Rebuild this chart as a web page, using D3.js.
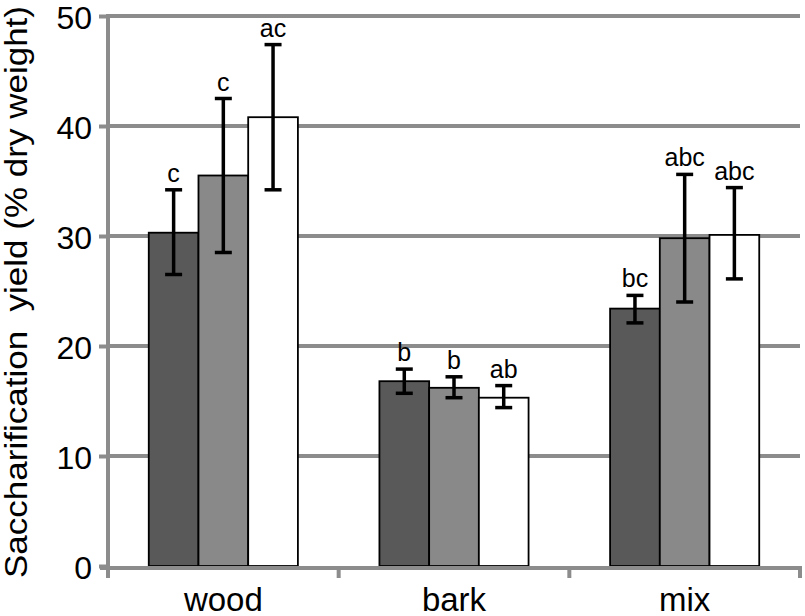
<!DOCTYPE html>
<html>
<head>
<meta charset="utf-8">
<script src="https://cdn.jsdelivr.net/npm/d3@7"></script>
<style>
  body { margin: 0; background: #fff; }
  text { font-family: "Liberation Sans", Arial, sans-serif; fill: #000; }
</style>
</head>
<body>
<svg id="chart" width="805" height="616"></svg>
<script>
// data
const categories = ["wood", "bark", "mix"];
const seriesNames = ["s1", "s2", "s3"];
const means = [
  [30.3, 35.5, 40.8],
  [16.8, 16.2, 15.3],
  [23.4, 29.8, 30.1]
];
const errLow = [
  [26.5, 28.5, 34.2],
  [15.7, 15.3, 14.4],
  [22.1, 24.0, 26.1]
];
const errHigh = [
  [34.2, 42.5, 47.4],
  [17.9, 17.2, 16.4],
  [24.6, 35.6, 34.4]
];
const letters = [
  ["c", "c", "ac"],
  ["b", "b", "ab"],
  ["bc", "abc", "abc"]
];
const yTicks = [0, 10, 20, 30, 40, 50];

const colors = ["#595959", "#898989", "#ffffff"];
const axisGray = "#8c8c8c";

const svg = d3.select("#chart");
const mLeft = 108, mRight = 800, mTop = 16, mBottom = 566;

// scales
const x = d3.scaleBand().domain(categories).range([mLeft, mRight]).paddingInner(0).paddingOuter(0);
const xs = d3.scaleBand().domain(seriesNames).range([0, x.bandwidth()]).paddingOuter(0.82).paddingInner(0);
const y = d3.scaleLinear().domain([0, 50]).range([mBottom, mTop]);

// gridlines
svg.append("g")
  .selectAll("line")
  .data(yTicks.filter(d => d > 0))
  .join("line")
  .attr("x1", mLeft).attr("x2", mRight)
  .attr("y1", d => y(d)).attr("y2", d => y(d))
  .attr("stroke", axisGray).attr("stroke-width", 4);

// y axis
const yAxis = svg.append("g")
  .attr("transform", `translate(${mLeft},0)`)
  .call(d3.axisLeft(y).tickValues(yTicks).tickSize(9).tickPadding(7));
yAxis.select(".domain").attr("stroke", axisGray).attr("stroke-width", 4)
  .attr("d", `M0,${y(50) - 2}V${mBottom + 2}`);
yAxis.selectAll(".tick line").attr("stroke", axisGray).attr("stroke-width", 4);
yAxis.selectAll(".tick text").attr("font-size", 32).attr("dy", "0.38em")
  .style("font-family", "Liberation Sans, Arial, sans-serif");

// bars
const groups = svg.append("g").selectAll("g")
  .data(categories)
  .join("g")
  .attr("transform", d => `translate(${x(d)},0)`);

groups.selectAll("rect")
  .data((d, i) => means[i].map((v, j) => ({v, j})))
  .join("rect")
  .attr("x", d => xs(seriesNames[d.j]))
  .attr("width", xs.bandwidth())
  .attr("y", d => y(d.v))
  .attr("height", d => y(0) - y(d.v))
  .attr("fill", d => colors[d.j])
  .attr("stroke", "#000").attr("stroke-width", 1.8);

// error bars
const eb = groups.selectAll("g.err")
  .data((d, i) => means[i].map((v, j) => ({i, j})))
  .join("g").attr("class", "err");
const cx = d => xs(seriesNames[d.j]) + xs.bandwidth() / 2;
const capHalf = 8.5;
eb.append("line")
  .attr("x1", cx).attr("x2", cx)
  .attr("y1", d => y(errLow[d.i][d.j])).attr("y2", d => y(errHigh[d.i][d.j]))
  .attr("stroke", "#000").attr("stroke-width", 3.5);
eb.append("line")
  .attr("x1", d => cx(d) - capHalf).attr("x2", d => cx(d) + capHalf)
  .attr("y1", d => y(errLow[d.i][d.j])).attr("y2", d => y(errLow[d.i][d.j]))
  .attr("stroke", "#000").attr("stroke-width", 3.5);
eb.append("line")
  .attr("x1", d => cx(d) - capHalf).attr("x2", d => cx(d) + capHalf)
  .attr("y1", d => y(errHigh[d.i][d.j])).attr("y2", d => y(errHigh[d.i][d.j]))
  .attr("stroke", "#000").attr("stroke-width", 3.5);
eb.append("text")
  .attr("x", cx)
  .attr("y", d => y(errHigh[d.i][d.j]) - 8)
  .attr("text-anchor", "middle")
  .attr("font-size", 25)
  .text(d => letters[d.i][d.j]);

// x axis
const xg = svg.append("g").attr("transform", `translate(0,${mBottom + 2})`);
xg.append("line")
  .attr("x1", mLeft - 8).attr("x2", mRight + 2)
  .attr("stroke", axisGray).attr("stroke-width", 4);
xg.selectAll("line.tick")
  .data(categories.map(c => x(c)).concat([mRight]))
  .join("line").attr("class", "tick")
  .attr("x1", d => d).attr("x2", d => d)
  .attr("y1", 0).attr("y2", 10)
  .attr("stroke", axisGray).attr("stroke-width", 4);
xg.selectAll("text")
  .data(categories)
  .join("text")
  .attr("x", d => x(d) + x.bandwidth() / 2)
  .attr("y", 43)
  .attr("text-anchor", "middle")
  .attr("font-size", 33)
  .text(d => d);

// y title
svg.append("text")
  .attr("transform", `translate(27,292) rotate(-90)`)
  .attr("text-anchor", "middle")
  .attr("font-size", 32)
  .attr("textLength", 572)
  .attr("lengthAdjust", "spacingAndGlyphs")
  .style("white-space", "pre")
  .text("Saccharification  yield (% dry weight)");
</script>
</body>
</html>
